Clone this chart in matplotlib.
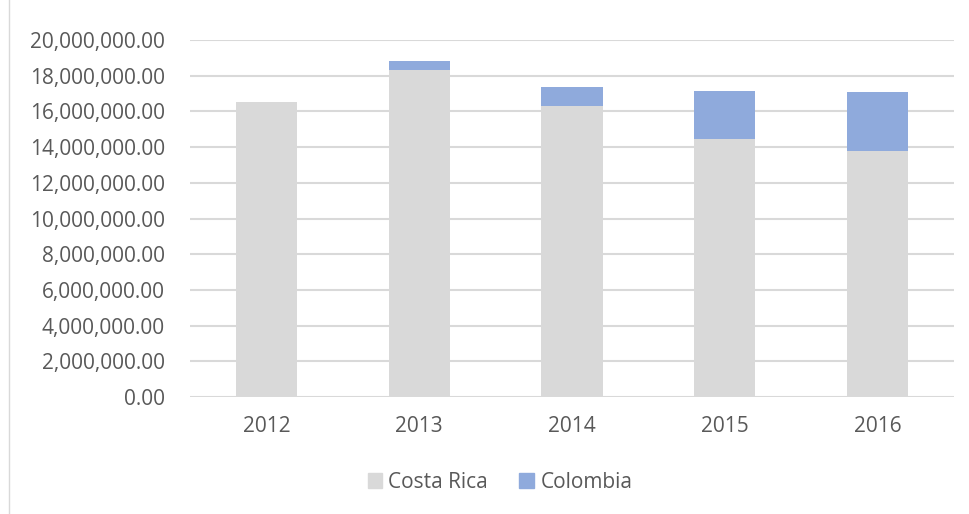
import matplotlib
matplotlib.use("Agg")
import matplotlib.pyplot as plt
from matplotlib.ticker import FuncFormatter
from matplotlib.lines import Line2D
import numpy as np

years = ["2012", "2013", "2014", "2015", "2016"]
costa_rica = [16530000, 18320000, 16300000, 14470000, 13780000]
colombia = [20000, 500000, 1050000, 2670000, 3310000]
yticks = [0, 2e6, 4e6, 6e6, 8e6, 10e6, 12e6, 14e6, 16e6, 18e6, 20e6]

plt.rcParams['font.family'] = ['Open Sans', 'DejaVu Sans']
fig = plt.figure(figsize=(9.7, 5.14), dpi=100)
ax = fig.add_axes([190/970, 1-397/514, (954-190)/970, (397-40)/514])

x = np.arange(len(years))
ax.bar(x, costa_rica, width=0.4, color="#d9d9d9", zorder=3, label="Costa Rica")
ax.bar(x, colombia, width=0.4, bottom=costa_rica, color="#8faadc", zorder=3, label="Colombia")

ax.set_xlim(-0.5, len(years)-0.5)
ax.set_ylim(0, 20e6)
ax.set_yticks(yticks)
ax.yaxis.set_major_formatter(FuncFormatter(lambda v, p: f"{v:,.2f}"))
ax.set_xticks(x)
ax.set_xticklabels(years)
ax.grid(axis="y", color="#d9d9d9", linewidth=1.5, zorder=0)
for s in ax.spines.values():
    s.set_visible(False)
ax.tick_params(axis="both", length=0, labelsize=15, labelcolor="#595959")
ax.tick_params(axis="y", pad=18)
ax.tick_params(axis="x", pad=14)

handles = [plt.Rectangle((0, 0), 1, 1, color="#d9d9d9"), plt.Rectangle((0, 0), 1, 1, color="#8faadc")]
fig.legend(handles, ["Costa Rica", "Colombia"], loc="center", bbox_to_anchor=(500/970, 1-482/514),
           ncol=2, frameon=False, fontsize=15, labelcolor="#595959", handlelength=0.7,
           handleheight=0.7, handletextpad=0.3, columnspacing=1.5)

fig.add_artist(Line2D([9/970, 9/970], [0, 1], color="#d9d9d9", linewidth=1, transform=fig.transFigure))

fig.savefig("out.png", dpi=100)
